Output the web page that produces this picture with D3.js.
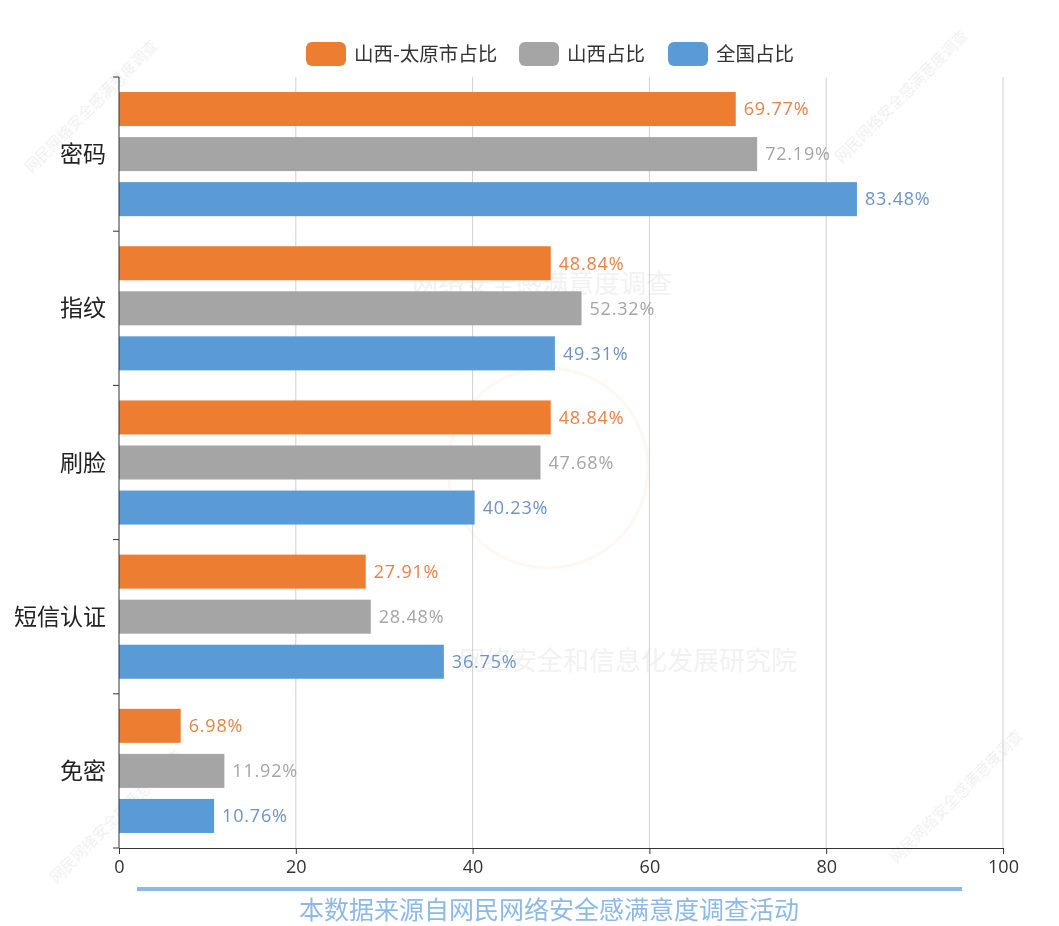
<!DOCTYPE html>
<html>
<head>
<meta charset="utf-8">
<script src="https://cdn.jsdelivr.net/npm/d3@7"></script>
<style>
  body { margin: 0; background: #fff; }
  svg { font-family: "Open Sans", "Noto Sans CJK SC", sans-serif; }
</style>
</head>
<body>
<svg width="1059" height="926"></svg>
<script>
// categories and series
var categories = ["密码", "指纹", "刷脸", "短信认证", "免密"];
var seriesNames = ["山西-太原市占比", "山西占比", "全国占比"];
var taiyuan = [69.77, 48.84, 48.84, 27.91, 6.98];
var shanxi = [72.19, 52.32, 47.68, 28.48, 11.92];
var national = [83.48, 49.31, 40.23, 36.75, 10.76];
var xTicks = [0, 20, 40, 60, 80, 100];

var barColors = ["#ED7D31", "#A5A5A5", "#5B9BD5"];
var labelColors = ["#E5834A", "#A5A5A5", "#6E94C4"];

var svg = d3.select("svg"),
    margin = {top: 77, right: 56, bottom: 78, left: 119},
    width = +svg.attr("width") - margin.left - margin.right,
    height = +svg.attr("height") - margin.top - margin.bottom;

var series = [taiyuan, shanxi, national];

// faint watermarks
var wm = svg.append("g").attr("fill", "#000").attr("opacity", 0.07)
  .style("font-family", "'Noto Sans CJK SC', sans-serif");
[[95, 110], [905, 100], [120, 820], [960, 800]].forEach(function(p) {
  wm.append("text")
    .attr("transform", "translate(" + p[0] + "," + p[1] + ") rotate(-45)")
    .attr("text-anchor", "middle")
    .attr("font-size", 15)
    .text("网民网络安全感满意度调查");
});
var wm2 = svg.append("g").attr("fill", "#000").attr("opacity", 0.05)
  .style("font-family", "'Noto Sans CJK SC', sans-serif")
  .attr("font-size", 26);
wm2.append("text").attr("x", 542).attr("y", 293).attr("text-anchor", "middle").text("网络安全感满意度调查");
wm2.append("text").attr("x", 628).attr("y", 670).attr("text-anchor", "middle").text("网络安全和信息化发展研究院");
svg.append("circle").attr("cx", 548).attr("cy", 468).attr("r", 100)
  .attr("fill", "none").attr("stroke", "#ED7D31").attr("stroke-width", 3).attr("opacity", 0.06);

var g = svg.append("g").attr("transform", "translate(" + margin.left + "," + margin.top + ")");

var x = d3.scaleLinear().domain([0, 100]).range([0, width]);
var y0 = d3.scaleBand().domain(categories).range([0, height]).paddingInner(0.195).paddingOuter(0.0975);
var y1 = d3.scaleBand().domain(d3.range(3)).range([0, y0.bandwidth()]).paddingInner(0.245);

// gridlines
g.append("g")
  .selectAll("line")
  .data(xTicks.slice(1))
  .enter().append("line")
  .attr("x1", function(d) { return x(d); })
  .attr("x2", function(d) { return x(d); })
  .attr("y1", 0).attr("y2", height)
  .attr("stroke", "#d0d0d0");

// bars
var cat = g.selectAll(".cat")
  .data(categories)
  .enter().append("g")
  .attr("transform", function(d) { return "translate(0," + y0(d) + ")"; });

cat.each(function(c, i) {
  var grp = d3.select(this);
  series.forEach(function(s, k) {
    grp.append("rect")
      .attr("x", 0)
      .attr("y", y1(k))
      .attr("width", x(s[i]))
      .attr("height", y1.bandwidth())
      .attr("fill", barColors[k]);
    grp.append("text")
      .attr("x", x(s[i]) + 8)
      .attr("y", y1(k) + y1.bandwidth() / 2)
      .attr("dy", "0.35em")
      .attr("font-size", 18)
      .attr("letter-spacing", 0.8)
      .attr("fill", labelColors[k])
      .text(s[i].toFixed(2) + "%");
  });
});

// x axis
var xAxis = g.append("g")
  .attr("transform", "translate(0," + height + ")")
  .call(d3.axisBottom(x).tickValues(xTicks).tickSize(6).tickPadding(6));
xAxis.select(".domain").attr("stroke", "#333");
xAxis.selectAll(".tick line").attr("stroke", "#333");
xAxis.selectAll("text").attr("font-size", 18).attr("fill", "#333").attr("font-family", "'Open Sans', sans-serif");

// y axis with ticks on band boundaries
var yAxis = g.append("g");
yAxis.append("line").attr("x1", 0).attr("x2", 0).attr("y1", 0).attr("y2", height).attr("stroke", "#333");
var step = height / categories.length;
yAxis.selectAll(".yt")
  .data(d3.range(categories.length + 1))
  .enter().append("line")
  .attr("x1", -6).attr("x2", 0)
  .attr("y1", function(d) { return d * step; })
  .attr("y2", function(d) { return d * step; })
  .attr("stroke", "#333");
yAxis.selectAll(".yl")
  .data(categories)
  .enter().append("text")
  .attr("x", -13)
  .attr("y", function(d) { return y0(d) + y0.bandwidth() / 2; })
  .attr("dy", "0.35em")
  .attr("text-anchor", "end")
  .attr("font-size", 23)
  .attr("fill", "#222")
  .style("font-family", "'Noto Sans CJK SC', sans-serif")
  .text(function(d) { return d; });

// legend
var legendX = [306, 519, 668];
var legend = svg.append("g").style("font-family", "'Noto Sans CJK SC', sans-serif");
seriesNames.forEach(function(n, k) {
  legend.append("rect")
    .attr("x", legendX[k]).attr("y", 42)
    .attr("width", 40).attr("height", 24)
    .attr("rx", 6)
    .attr("fill", barColors[k]);
  legend.append("text")
    .attr("x", legendX[k] + 48).attr("y", 54)
    .attr("dy", "0.35em")
    .attr("font-size", 19.5)
    .attr("fill", "#333")
    .text(n);
});

// source note
svg.append("line")
  .attr("x1", 137).attr("x2", 962)
  .attr("y1", 889).attr("y2", 889)
  .attr("stroke", "#8DB9E8").attr("stroke-width", 4);
svg.append("text")
  .attr("x", 549).attr("y", 910)
  .attr("dy", "0.35em")
  .attr("text-anchor", "middle")
  .attr("font-size", 25)
  .attr("fill", "#8DB9E8")
  .style("font-family", "'Noto Sans CJK SC', sans-serif")
  .text("本数据来源自网民网络安全感满意度调查活动");
</script>
</body>
</html>
